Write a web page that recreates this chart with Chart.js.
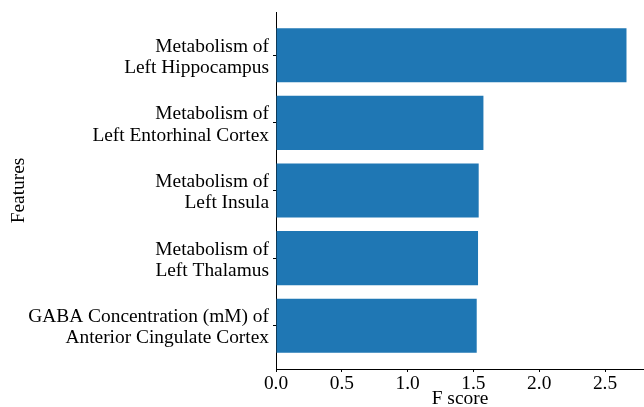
<!DOCTYPE html>
<html>
<head>
<meta charset="utf-8">
<script src="https://cdn.jsdelivr.net/npm/chart.js@4"></script>
<style>
  html, body { margin: 0; padding: 0; background: #fff; }
  #wrap { width: 644px; height: 407px; }
</style>
</head>
<body>
<div id="wrap"><canvas id="c"></canvas></div>
<script>
// Data (bottom to top)
const categories = [
  ['GABA Concentration (mM) of', 'Anterior Cingulate Cortex'],
  ['Metabolism of', 'Left Thalamus'],
  ['Metabolism of', 'Left Insula'],
  ['Metabolism of', 'Left Entorhinal Cortex'],
  ['Metabolism of', 'Left Hippocampus']
];
const positions = [0, 1, 2, 3, 4];
const fScores = [1.525, 1.535, 1.54, 1.576, 2.663];
const xTicks = [0, 0.5, 1.0, 1.5, 2.0, 2.5];
const xAxisTitle = 'F score';
const yAxisTitle = 'Features';

const FONT = "'Liberation Serif', 'Times New Roman', serif";
const FS = 19.4;

new Chart(document.getElementById('c'), {
  type: 'bar',
  data: {
    datasets: [{
      data: positions.map((p, i) => ({ x: fScores[i], y: p })),
      backgroundColor: '#1f77b4',
      borderWidth: 0,
      barPercentage: 0.8,
      categoryPercentage: 1.0
    }]
  },
  options: {
    indexAxis: 'y',
    responsive: true,
    maintainAspectRatio: false,
    animation: false,
    layout: { padding: { top: 12, right: 0, left: 0, bottom: 0 } },
    plugins: { legend: { display: false }, tooltip: { enabled: false } },
    scales: {
      x: {
        type: 'linear',
        min: 0,
        max: 2.796,
        offset: false,
        grid: { offset: false, drawOnChartArea: false, tickLength: 3, tickColor: '#000', tickWidth: 1 },
        border: { display: true, color: '#000', width: 1 },
        afterBuildTicks: s => { s.ticks = xTicks.map(v => ({ value: v })); },
        ticks: {
          color: '#000',
          padding: 0,
          font: { family: FONT, size: FS },
          callback: v => Number(v).toFixed(1)
        },
        title: { display: true, text: xAxisTitle, color: '#000', font: { family: FONT, size: FS, lineHeight: 0.85 }, padding: { top: 0, bottom: 0 } },
        afterFit: s => { s.height = 38; s.paddingLeft = 0; s.paddingRight = 0; }
      },
      y: {
        type: 'linear',
        min: -0.64,
        max: 4.64,
        offset: false,
        grid: { offset: false, drawOnChartArea: false, tickLength: 3, tickColor: '#000', tickWidth: 1 },
        border: { display: true, color: '#000', width: 1 },
        afterBuildTicks: s => { s.ticks = positions.map(v => ({ value: v })); },
        ticks: {
          color: '#000',
          padding: 4,
          labelOffset: 2,
          font: { family: FONT, size: FS, lineHeight: 1.1 },
          callback: v => categories[Math.round(v)] || ''
        },
        title: { display: true, text: yAxisTitle, color: '#000', font: { family: FONT, size: FS }, padding: { top: 7, bottom: 0 } },
        afterFit: s => { s.width = 276; s.paddingTop = 0; s.paddingBottom = 0; }
      }
    }
  }
});
</script>
</body>
</html>
